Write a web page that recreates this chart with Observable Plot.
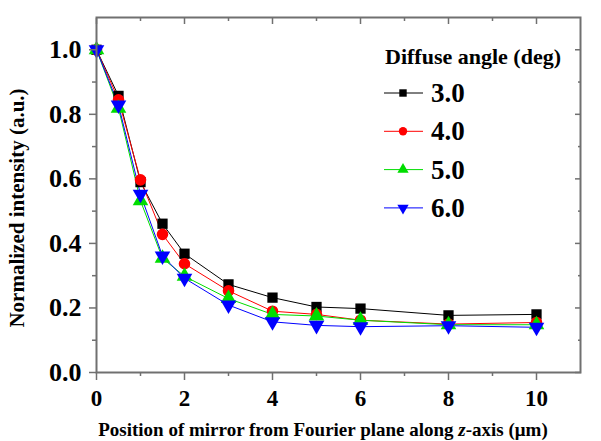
<!DOCTYPE html>
<html>
<head>
<meta charset="utf-8">
<script src="https://cdn.jsdelivr.net/npm/d3@7"></script>
<script src="https://cdn.jsdelivr.net/npm/@observablehq/plot@0.6"></script>
<style>
  html, body { margin: 0; padding: 0; background: #fff; }
  #chart svg { display: block; }
  #chart svg text { font-family: "Liberation Serif", "Times New Roman", serif !important; }
</style>
</head>
<body>
<div id="chart"></div>
<script>
const positions = [0, 0.5, 1, 1.5, 2, 3, 4, 5, 6, 8, 10];
const angles = ["3.0", "4.0", "5.0", "6.0"];
const colors = ["#000000", "#ff0000", "#00dd00", "#0000ff"];
const symbols = ["square", "circle", "triangle", "triangle"];
const rotations = [0, 0, 0, 180];
const intensity30 = [1.0, 0.857, 0.59, 0.461, 0.368, 0.273, 0.232, 0.203, 0.198, 0.177, 0.180];
const intensity40 = [1.0, 0.845, 0.597, 0.428, 0.337, 0.253, 0.190, 0.180, 0.162, 0.150, 0.155];
const intensity50 = [1.0, 0.819, 0.532, 0.354, 0.298, 0.229, 0.180, 0.175, 0.162, 0.148, 0.148];
const intensity60 = [1.0, 0.829, 0.552, 0.361, 0.292, 0.209, 0.157, 0.146, 0.142, 0.145, 0.140];
const xTicks = [0, 2, 4, 6, 8, 10];
const xMinorTicks = [1, 3, 5, 7, 9];
const yTicks = [0, 0.2, 0.4, 0.6, 0.8, 1.0];
const yMinorTicks = [0.1, 0.3, 0.5, 0.7, 0.9];
const legendTitle = "Diffuse angle (deg)";
const yTitle = "Normalized intensity (a.u.)";

const series = [intensity30, intensity40, intensity50, intensity60];
const data = [];
series.forEach((vals, i) => vals.forEach((v, j) => data.push({x: positions[j], y: v, angle: angles[i]})));

const serif = "Liberation Serif";
const axisGray = "#707070";

const lineMarks = angles.map((a, i) => Plot.line(data.filter(d => d.angle === a), {
  x: "x", y: "y", stroke: colors[i], strokeWidth: 1
}));
const dotMarks = angles.map((a, i) => Plot.dot(data.filter(d => d.angle === a), {
  x: "x", y: "y", fill: colors[i], stroke: "none", symbol: () => symbols[i], r: 5.8, rotate: rotations[i]
}));

const chart = Plot.plot({
  width: 601,
  height: 441,
  marginLeft: 96,
  marginRight: 21,
  marginTop: 17,
  marginBottom: 69,
  style: {fontFamily: serif, background: "#fff"},
  x: {domain: [0, 11]},
  y: {domain: [0, 1.1]},
  symbol: {type: "identity"},
  marks: [
    ...lineMarks,
    ...dotMarks,
    Plot.frame({stroke: axisGray, strokeWidth: 2}),
    Plot.axisX({ticks: xTicks, tickSize: 8, tickFormat: () => "", stroke: axisGray, strokeWidth: 1.5, label: null}),
    Plot.axisX({ticks: xMinorTicks, tickSize: 4, tickFormat: () => "", stroke: axisGray, strokeWidth: 1.5, label: null}),
    Plot.axisX({ticks: xTicks, tickSize: 0, tickPadding: 17, tickFormat: d => String(d), fontSize: 23, fontWeight: "bold", fill: "black", label: null}),
    Plot.axisX({anchor: "top", ticks: xTicks, tickSize: -6, tickFormat: () => "", stroke: axisGray, strokeWidth: 1.5, label: null}),
    Plot.axisX({anchor: "top", ticks: xMinorTicks, tickSize: -3, tickFormat: () => "", stroke: axisGray, strokeWidth: 1.5, label: null}),
    Plot.axisY({ticks: yTicks, tickSize: 7, tickFormat: () => "", stroke: axisGray, strokeWidth: 1.5, label: null}),
    Plot.axisY({ticks: yMinorTicks, tickSize: 4, tickFormat: () => "", stroke: axisGray, strokeWidth: 1.5, label: null}),
    Plot.axisY({ticks: yTicks, tickSize: 0, tickPadding: 15, tickFormat: d => d.toFixed(1), fontSize: 26, fontWeight: "bold", fill: "black", label: null}),
    Plot.axisY({anchor: "right", ticks: yTicks, tickSize: -6, tickFormat: () => "", stroke: axisGray, strokeWidth: 1.5, label: null}),
    Plot.axisY({anchor: "right", ticks: yMinorTicks, tickSize: -3, tickFormat: () => "", stroke: axisGray, strokeWidth: 1.5, label: null})
  ]
});

document.getElementById("chart").appendChild(chart);

const svg = d3.select(chart);
const xt = svg.append("text")
  .attr("x", 323).attr("y", 436)
  .attr("text-anchor", "middle")
  .attr("font-family", serif).attr("font-weight", "bold").attr("font-size", 19)
  .attr("fill", "black");
xt.append("tspan").text("Position of mirror from Fourier plane along ");
xt.append("tspan").attr("font-style", "italic").text("z");
xt.append("tspan").text("-axis (\u03bcm)");

svg.append("text")
  .attr("transform", "translate(24,208) rotate(-90)")
  .attr("text-anchor", "middle")
  .attr("font-family", serif).attr("font-weight", "bold").attr("font-size", 21)
  .attr("fill", "black")
  .text(yTitle);

const lg = svg.append("g").attr("text-anchor", "start");
lg.append("text")
  .attr("x", 385).attr("y", 64)
  .attr("text-anchor", "start")
  .attr("font-family", serif).attr("font-weight", "bold").attr("font-size", 22)
  .attr("fill", "black").text(legendTitle);

const symMap = {square: d3.symbolSquare, circle: d3.symbolCircle, triangle: d3.symbolTriangle};
angles.forEach((a, i) => {
  const cy = 93 + i * 38.3;
  const g = lg.append("g");
  g.append("line").attr("x1", 384).attr("x2", 423).attr("y1", cy).attr("y2", cy)
    .attr("stroke", colors[i]).attr("stroke-width", 1);
  g.append("path")
    .attr("d", d3.symbol(symMap[symbols[i]], 55)())
    .attr("transform", `translate(403,${cy}) rotate(${rotations[i]})`)
    .attr("fill", colors[i]);
  g.append("text")
    .attr("x", 431).attr("y", cy + 9)
    .attr("text-anchor", "start")
    .attr("font-family", serif).attr("font-weight", "bold").attr("font-size", 27)
    .attr("fill", "black").text(a);
});
</script>
</body>
</html>
